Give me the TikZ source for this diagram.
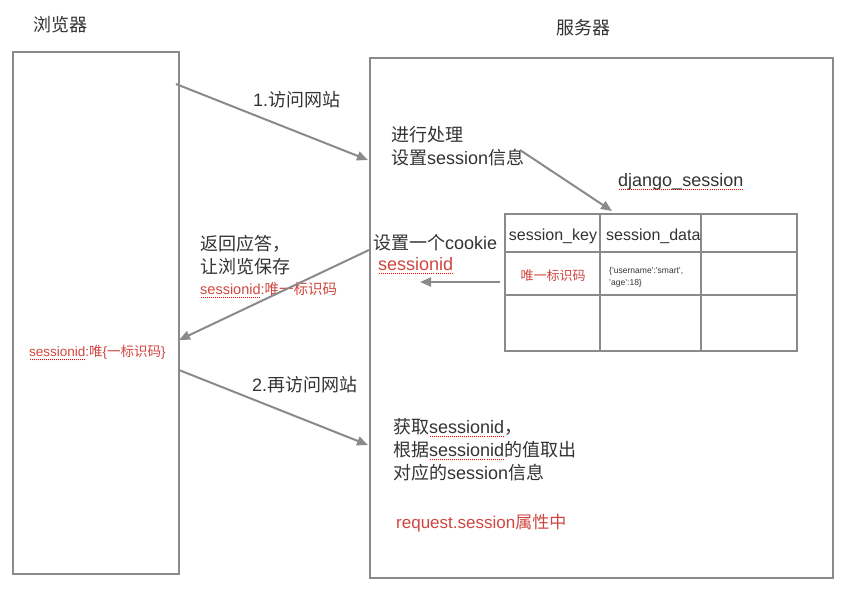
\documentclass[tikz,border=0pt]{standalone}
\usepackage{fontspec}
\setmainfont{Liberation Sans}
\newfontfamily\zhfont{Noto Sans CJK SC}
\newcommand\zh[1]{{\zhfont #1}}
\usetikzlibrary{arrows.meta}
\definecolor{ln}{HTML}{8A8A8A}
\definecolor{tx}{HTML}{333333}
\definecolor{rd}{HTML}{D0463F}
\newlength\sqw
\newcommand\sq[1]{\settowidth\sqw{#1}\rlap{\raisebox{-3.5pt}{\textcolor{red}{\hbox to \sqw{\xleaders\hbox to 2pt{\hss\rule{1pt}{1pt}\hss}\hfill}}}}#1}
\tikzset{
  box/.style={draw=ln, line width=2pt, fill=white, inner sep=0pt, anchor=north west},
  conn/.style={draw=ln, line width=2pt, -{Triangle[length=11pt,width=9pt]}},
  txt/.style={inner sep=0pt, anchor=west, text=tx, font=\fontsize{18}{23}\selectfont, align=left},
  red/.style={txt, text=rd},
  grid/.style={draw=ln, line width=2pt},
}
\begin{document}
\begin{tikzpicture}[x=1pt,y=-1pt]
\useasboundingbox (0,0) rectangle (856,590);
% boxes
\node[box, minimum width=166pt, minimum height=522pt] (br) at (12,51) {};
\node[box, minimum width=463pt, minimum height=520pt] (sv) at (369,57) {};
% titles
\node[txt, anchor=center] (tbr) at (60,25) {\zh{浏览器}};
\node[txt, anchor=center] (tsv) at (583,28) {\zh{服务器}};
% table
\draw[grid] (505,214) rectangle (797,351);
\draw[grid] (505,252) -- (797,252) (505,295) -- (797,295)
            (600,214) -- (600,351) (701,214) -- (701,351);
\node[txt, anchor=center, font=\fontsize{16}{18}\selectfont] (k) at (553,236) {session\_key};
\node[txt, anchor=west, font=\fontsize{16}{18}\selectfont] (d) at (606,236) {session\_data};
\node[red, anchor=center, font=\fontsize{13}{16}\selectfont] (kv) at (553,276) {\zh{唯一标识码}};
\node[txt, font=\fontsize{8.5}{12}\selectfont] (dv) at (609,277) {\{'username':'smart',\\'age':18\}};
\node[txt] (dj) at (618,182) {\sq{django\_session}};
% server texts
\node[txt] (proc) at (391,146) {\zh{进行处理}\\\zh{设置}session\zh{信息}};
\node[txt] (ck) at (373,243) {\zh{设置一个}cookie};
\node[red] (sid) at (378,266) {\sq{sessionid}};
\node[txt] (get) at (393,450) {\zh{获取}\sq{sessionid}\zh{，}\\\zh{根据}\sq{sessionid}\zh{的值取出}\\\zh{对应的}session\zh{信息}};
\node[red, font=\fontsize{17}{20}\selectfont] (req) at (396,523) {request.session\zh{属性中}};
% browser side labels
\node[txt] (l1) at (253,100) {1.\zh{访问网站}};
\node[txt] (ret) at (200,255) {\zh{返回应答，}\\\zh{让浏览保存}};
\node[red, font=\fontsize{14.5}{16}\selectfont] (ret2) at (200,290) {\sq{sessionid}:\zh{唯一标识码}};
\node[red, font=\fontsize{13.5}{15}\selectfont] (bsid) at (29,353) {\sq{sessionid}:\zh{唯}\{\zh{一标识码}\}};
\node[txt] (l2) at (252,385) {2.\zh{再访问网站}};
% connector endpoints
\coordinate (a1s) at (176,84);   \coordinate (a1e) at (368,160);
\coordinate (a2s) at (520,150);  \coordinate (a2e) at (612,211);
\coordinate (a3s) at (500,282);  \coordinate (a3e) at (420,282);
\coordinate (a4s) at (369,250);  \coordinate (a4e) at (179,340);
\coordinate (a5s) at (179,370);  \coordinate (a5e) at (368,445);
\draw[conn] (a1s) -- (a1e);
\draw[conn] (a2s) -- (a2e);
\draw[conn] (a3s) -- (a3e);
\draw[conn] (a4s) -- (a4e);
\draw[conn] (a5s) -- (a5e);
\end{tikzpicture}
\end{document}
